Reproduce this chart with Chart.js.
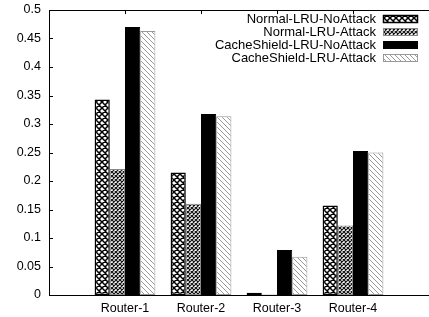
<!DOCTYPE html>
<html>
<head>
<meta charset="utf-8">
<script src="https://cdn.jsdelivr.net/npm/chart.js@4"></script>
<style>
  html, body { margin: 0; padding: 0; background: #fff; }
  canvas { display: block; }
</style>
</head>
<body>
<canvas id="chart" width="429" height="317"></canvas>
<script>
// data
const routers = ["Router-1", "Router-2", "Router-3", "Router-4"];
const seriesNames = [
  "Normal-LRU-NoAttack",
  "Normal-LRU-Attack",
  "CacheShield-LRU-NoAttack",
  "CacheShield-LRU-Attack",
];
const normalNoAttack = [0.343, 0.215, 0.004, 0.157];
const normalAttack = [0.221, 0.16, 0.001, 0.122];
const shieldNoAttack = [0.47, 0.3175, 0.079, 0.2526];
const shieldAttack = [0.463, 0.3135, 0.067, 0.25];
const yTickValues = [0, 0.05, 0.1, 0.15, 0.2, 0.25, 0.3, 0.35, 0.4, 0.45, 0.5];

const FONT = "'Liberation Sans', Arial, Helvetica, sans-serif";

// fill patterns, gnuplot style
function makePattern(size, draw) {
  const c = document.createElement("canvas");
  c.width = c.height = size;
  const g = c.getContext("2d");
  g.fillStyle = "#fff";
  g.fillRect(0, 0, size, size);
  draw(g, size);
  return g.createPattern(c, "repeat");
}
function diagonals(g, s, both) {
  g.beginPath();
  for (const d of [-s, 0, s]) {
    g.moveTo(d, 0);
    g.lineTo(d + s, s);
    if (both) {
      g.moveTo(d + s, 0);
      g.lineTo(d, s);
    }
  }
  g.stroke();
}
const crossPattern = makePattern(6, (g, s) => {
  g.strokeStyle = "#000";
  g.lineWidth = 1.5;
  diagonals(g, s, true);
});
const fineCrossPattern = makePattern(4, (g, s) => {
  g.strokeStyle = "#111";
  g.lineWidth = 1.2;
  diagonals(g, s, true);
});
const hatchPattern = makePattern(5, (g, s) => {
  g.strokeStyle = "#999";
  g.lineWidth = 1;
  diagonals(g, s, false);
});

// empty slot on each side so the routers sit 1 unit in from the edges
const labels = ["", ...routers, ""];
const pad = (arr) => [null, ...arr, null];

const datasets = [
  { label: seriesNames[0], data: pad(normalNoAttack), backgroundColor: crossPattern, borderColor: "#000", borderWidth: 1.5 },
  { label: seriesNames[1], data: pad(normalAttack), backgroundColor: fineCrossPattern, borderColor: "#888", borderWidth: 1 },
  { label: seriesNames[2], data: pad(shieldNoAttack), backgroundColor: "#000", borderColor: "#000", borderWidth: 1 },
  { label: seriesNames[3], data: pad(shieldAttack), backgroundColor: hatchPattern, borderColor: "#999", borderWidth: 1 },
];

// top border, inward ticks
const frame = {
  id: "frame",
  afterDraw(chart) {
    const { ctx, chartArea: a, scales } = chart;
    ctx.save();
    ctx.strokeStyle = "#000";
    ctx.lineWidth = 1;
    ctx.beginPath();
    const top = Math.round(a.top) + 0.5;
    ctx.moveTo(a.left, top);
    ctx.lineTo(a.right, top);
    yTickValues.forEach((v) => {
      const py = Math.round(scales.y.getPixelForValue(v)) + 0.5;
      ctx.moveTo(a.left, py);
      ctx.lineTo(a.left + 4, py);
    });
    routers.forEach((r, i) => {
      const px = Math.round(scales.x.getPixelForValue(i + 1)) + 0.5;
      ctx.moveTo(px, a.top);
      ctx.lineTo(px, a.top + 4);
    });
    ctx.stroke();
    ctx.restore();
  },
};

// key in the top right corner, text right aligned, sample to the right
const key = {
  id: "key",
  afterDraw(chart) {
    const ctx = chart.ctx;
    ctx.save();
    ctx.font = "13px " + FONT;
    ctx.textAlign = "right";
    ctx.textBaseline = "middle";
    chart.data.datasets.forEach((ds, i) => {
      const yc = 19 + i * 13;
      ctx.fillStyle = "#000";
      ctx.fillText(ds.label, 376, yc);
      ctx.fillStyle = ds.backgroundColor;
      ctx.fillRect(383, yc - 4, 35, 8);
      ctx.strokeStyle = ds.borderColor;
      ctx.lineWidth = ds.borderWidth;
      ctx.strokeRect(383.5, yc - 3.5, 34, 7);
    });
    ctx.restore();
  },
};

new Chart(document.getElementById("chart"), {
  type: "bar",
  data: { labels, datasets },
  options: {
    responsive: false,
    animation: false,
    devicePixelRatio: 1,
    layout: { padding: { top: 10, right: 0, left: 0, bottom: 0 } },
    datasets: {
      bar: { categoryPercentage: 0.8, barPercentage: 1.0, borderSkipped: false },
    },
    plugins: {
      legend: { display: false },
      tooltip: { enabled: false },
    },
    scales: {
      x: {
        offset: false,
        grid: { display: false, drawTicks: false },
        border: { display: true, color: "#000", width: 1 },
        ticks: {
          color: "#000",
          font: { family: FONT, size: 12.5 },
          padding: 6,
          maxRotation: 0,
          autoSkip: false,
        },
        afterFit(scale) {
          scale.height = 22;
          scale.paddingLeft = 0;
          scale.paddingRight = 0;
        },
      },
      y: {
        min: 0,
        max: 0.5,
        grid: { display: false, drawTicks: false },
        border: { display: true, color: "#000", width: 1 },
        afterBuildTicks(scale) {
          scale.ticks = yTickValues.map((v) => ({ value: v }));
        },
        ticks: {
          color: "#000",
          font: { family: FONT, size: 12.5 },
          padding: 8,
          callback: (v) => String(+Number(v).toFixed(2)),
        },
        afterFit(scale) {
          scale.width = 49;
          scale.paddingTop = 0;
          scale.paddingBottom = 0;
        },
      },
    },
  },
  plugins: [frame, key],
});
</script>
</body>
</html>
